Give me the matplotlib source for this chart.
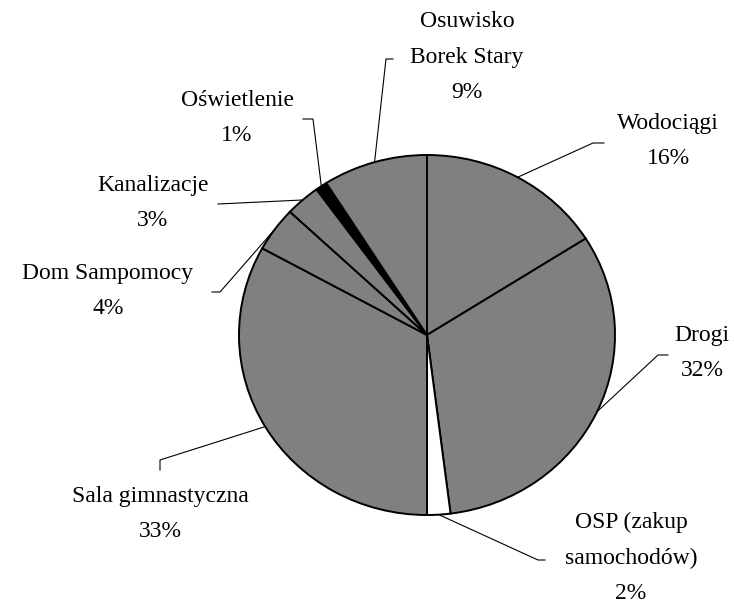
import numpy as np
import matplotlib
matplotlib.use("Agg")
import matplotlib.pyplot as plt

labels = ["Wodociągi", "Drogi", "OSP (zakup\nsamochodów)", "Sala gimnastyczna",
          "Dom Sampomocy", "Kanalizacje", "Oświetlenie", "Osuwisko\nBorek Stary"]
values = [16, 32, 2, 33, 4, 3, 1, 9]
colors = ["#808080", "#808080", "#ffffff", "#808080", "#808080", "#808080", "#000000", "#808080"]

# layout (pixel coords, y from top)
W, H = 734, 605
cx, cy = 427, 335
rx, ry = 188, 180
# label text centre, leader elbow, leader end
label_pos = [(668, 141), (702, 353), (631, 558), (160, 514), (108, 291), (153, 203), (237, 118), (467, 57)]
elbows = [(593, 143), (658, 355), (538, 560), (160, 460), (220, 292), (218, 204), (313, 119), (386, 59)]
ends = [(604, 143), (668, 355), (545, 560), (160, 470), (212, 292), (218, 204), (303, 119), (393, 59)]

fig = plt.figure(figsize=(W / 100, H / 100), dpi=100)
ax = fig.add_axes([0, 0, 1, 1])
sy = rx / ry  # vertical data scale for ellipse

def to_data(px, py):
    return px, (H - py) * sy

wedges, _ = ax.pie(values, colors=colors, startangle=90, counterclock=False,
                   radius=rx, center=to_data(cx, cy),
                   wedgeprops=dict(edgecolor="black", linewidth=1.4))
ax.set_aspect("auto")
ax.set_xlim(0, W)
ax.set_ylim(0, H * sy)
ax.axis("off")

total = sum(values)
cum = 0
font = dict(family=["Liberation Serif", "DejaVu Serif"], fontsize=17)
for i, (lab, v) in enumerate(zip(labels, values)):
    mid = (cum + v / 2) / total * 2 * np.pi
    cum += v
    axp = cx + rx * np.sin(mid)
    ayp = cy - ry * np.cos(mid)
    xs = [axp, elbows[i][0], ends[i][0]]
    ys = [ayp, elbows[i][1], ends[i][1]]
    dx, dy = zip(*[to_data(x, y) for x, y in zip(xs, ys)])
    ax.plot(dx, dy, color="black", linewidth=0.8)
    tx, ty = to_data(*label_pos[i])
    ax.text(tx, ty, f"{lab}\n{v}%", ha="center", va="center",
            linespacing=1.92, **font)

fig.savefig("out.png", dpi=100)
